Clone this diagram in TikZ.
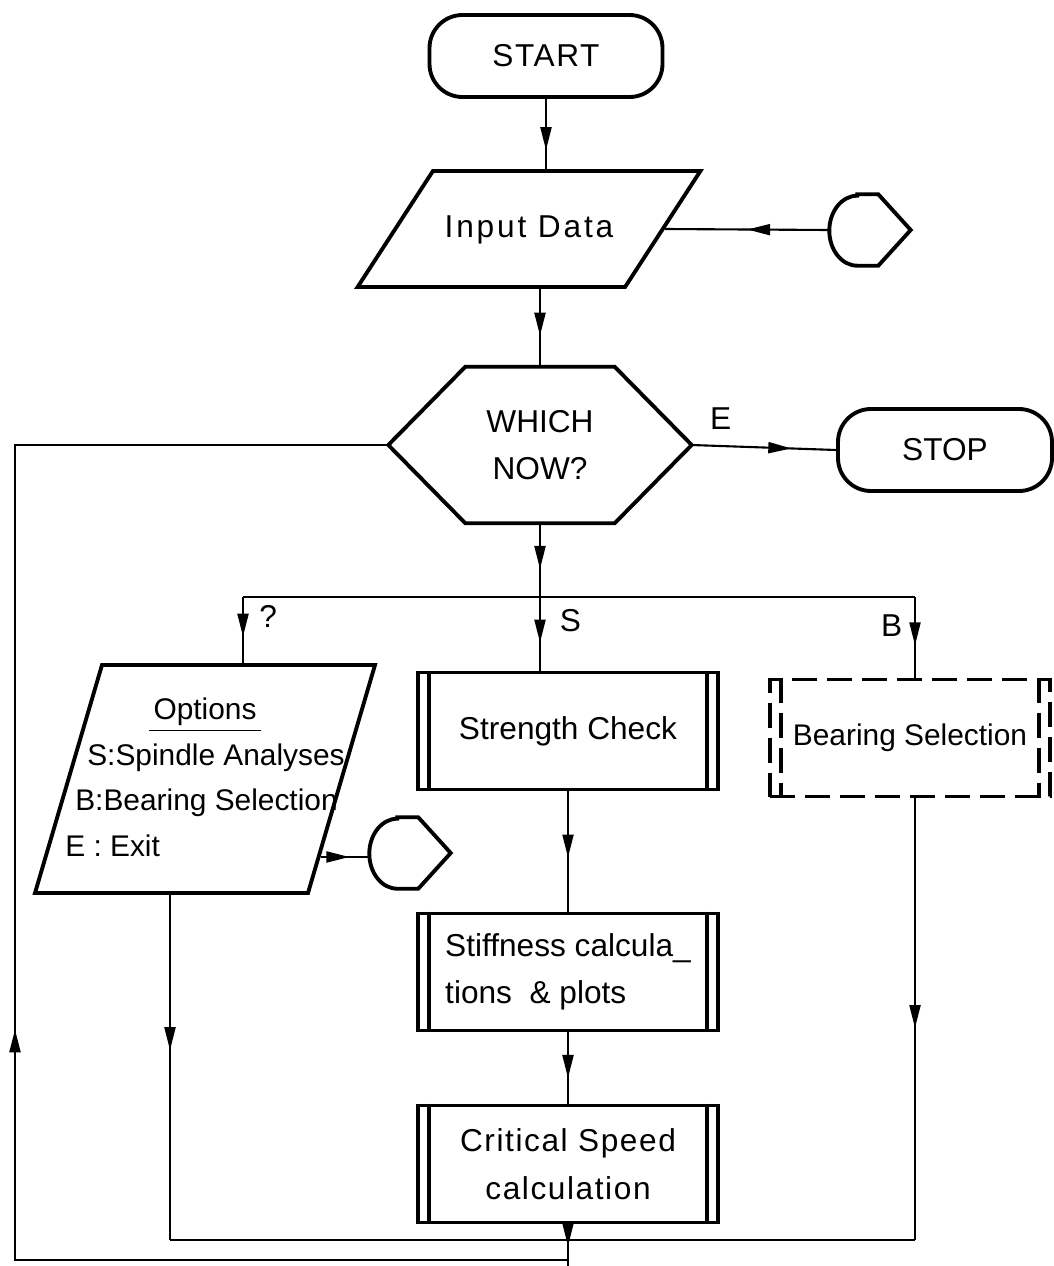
\documentclass[tikz,border=0pt]{standalone}
\usepackage{fontspec}
\setmainfont{Liberation Sans}
\newfontfamily\spacedfont[LetterSpace=5]{Liberation Sans}
\newfontfamily\widefont[LetterSpace=9]{Liberation Sans}
\usetikzlibrary{positioning,calc,arrows.meta,shapes.geometric,decorations.markings}
\tikzset{>={Triangle[length=2.3mm,width=1.1mm]}}
\tikzset{
  shape line/.style={line width=1.1pt},
  flow/.style={line width=0.6pt},
  terminal/.style={shape line,draw,rounded corners=3.3mm,minimum height=8.2mm},
  io/.style={shape line,draw,trapezium,trapezium stretches body=true,align=center},
  process/.style={shape line,draw,minimum width=30mm,minimum height=11.7mm,align=center},
  midarrow/.style={postaction={decorate},decoration={markings,mark=at position #1 with {\arrow{>}}}},
}
% inner bars of a predefined process
\newcommand\sidebars[2][]{%
  \draw[shape line,#1] ([xshift=1.3mm]#2.north west) -- ([xshift=1.3mm]#2.south west)
    ([xshift=-1.3mm]#2.north east) -- ([xshift=-1.3mm]#2.south east);}
% off-page connector
\newcommand\offpage[1]{%
  \draw[shape line] ([xshift=2.8mm]#1.north west) -- ([xshift=4.9mm]#1.north west) -- (#1.east)
    -- ([xshift=4.9mm]#1.south west) -- ([xshift=2.8mm]#1.south west)
    arc[start angle=270,end angle=90,x radius=2.8mm,y radius=3.5mm] -- cycle;}

\begin{document}
\begin{tikzpicture}[x=0.1mm,y=-0.1mm,font=\fontsize{9}{13.5}\selectfont]
\useasboundingbox (0,0) rectangle (1054,1266);
\node[terminal,minimum width=23.3mm] (start) at (546,56) {\spacedfont START};
\node[io,trapezium left angle=57,trapezium right angle=123,minimum width=34.2mm,text height=2.2mm,text depth=0.6mm,inner ysep=4.4mm] (in) at (529,229) {\widefont Input Data};
\node[minimum width=8mm,minimum height=7mm,inner sep=0pt] (c1) at (870,230) {};
\node[minimum width=30.2mm,minimum height=15.5mm,align=center] (which) at (540,445) {WHICH\\NOW?};
\node[terminal,minimum width=21.4mm] (stop) at (945,450) {STOP};
\node[io,trapezium left angle=72,trapezium right angle=108,minimum width=34mm,minimum height=22.8mm] (options) at (205,779)
  {\makebox[0pt]{\fontsize{8.5}{13}\selectfont\begin{tabular}{@{}l@{}}\multicolumn{1}{@{}c@{}}{\underline{\,Options\,}}\\
   \hspace*{2.2mm}S:Spindle Analyses\\ \hspace*{1mm}B:Bearing Selection\\ E : Exit\end{tabular}}};
\node[minimum width=8mm,minimum height=7mm,inner sep=0pt] (c2) at (410,853) {};
\node[process] (strength) at (568,731) {Strength Check};
\node[process,dash pattern=on 2.5mm off 1mm,minimum width=28mm,font=\fontsize{8.5}{13}\selectfont] (bearing) at (910,738) {Bearing Selection};
\node[process,align=left] (stiff) at (568,972) {Stiffness calcula\_\\tions \ \& plots};
\node[process,font=\spacedfont\fontsize{9}{13.5}\selectfont] (critical) at (568,1164) {Critical Speed\\calculation};

% decision outline
\draw[shape line] (which.west) -- ([xshift=7.7mm]which.north west) -- ([xshift=-7.7mm]which.north east)
  -- (which.east) -- ([xshift=-7.7mm]which.south east) -- ([xshift=7.7mm]which.south west) -- cycle;
\offpage{c1}
\offpage{c2}
\sidebars{strength}
\sidebars{stiff}
\sidebars{critical}
\sidebars[dash pattern=on 2.5mm off 1mm]{bearing}

\coordinate (split) at (540,597);
\coordinate (splitL) at (243,597);
\coordinate (splitR) at (915,597);
\coordinate (optout) at ([xshift=-3.5mm]options.south);
\coordinate (joinL) at (optout |- 0,1240);
\coordinate (joinR) at (splitR |- 0,1240);
\coordinate (exit) at (critical.south |- 0,1266);
\coordinate (loopB) at (critical.south |- 0,1260);
\coordinate (loopL) at (15,1260);

\draw[flow,midarrow=0.73] (start.south) -- (start.south |- in.north);
\draw[flow,midarrow=0.5] (c1.west) -- (in.east);
\draw[flow,midarrow=0.6] (which.north |- in.south) -- (which.north);
\draw[flow,midarrow=0.69] (which.east) -- node[pos=0.2,above=1pt] {E} (stop.west);
\draw[flow,midarrow=0.62] (which.south) -- (split);
\draw[flow] (splitL) -- (splitR);
\draw[flow,midarrow=0.62] (split) -- node[pos=0.32,right=2pt] {S} (split |- strength.north);
\draw[flow,midarrow=0.6] (splitL) -- node[pos=0.3,right=1pt] {?} (splitL |- options.north);
\draw[flow,midarrow=0.6] (splitR) -- node[pos=0.35,left=0pt] {B} (splitR |- bearing.north);
\draw[flow,midarrow=0.55] (strength) -- (stiff);
\draw[flow,midarrow=0.64] (stiff) -- (critical);
\draw[flow,midarrow=0.59] (options.-34) -- (options.-34 -| c2.west);
\draw[flow,midarrow=0.45] (optout) -- (joinL);
\draw[flow,midarrow=0.52] (splitR |- bearing.south) -- (joinR);
\draw[flow] (joinL) -- (joinR);
\draw[flow,midarrow=0.52] (critical.south) -- (exit);
\draw[flow,midarrow=0.45] (loopB) -- (loopL) -- (loopL |- which.west) -- (which.west);
\end{tikzpicture}
\end{document}
